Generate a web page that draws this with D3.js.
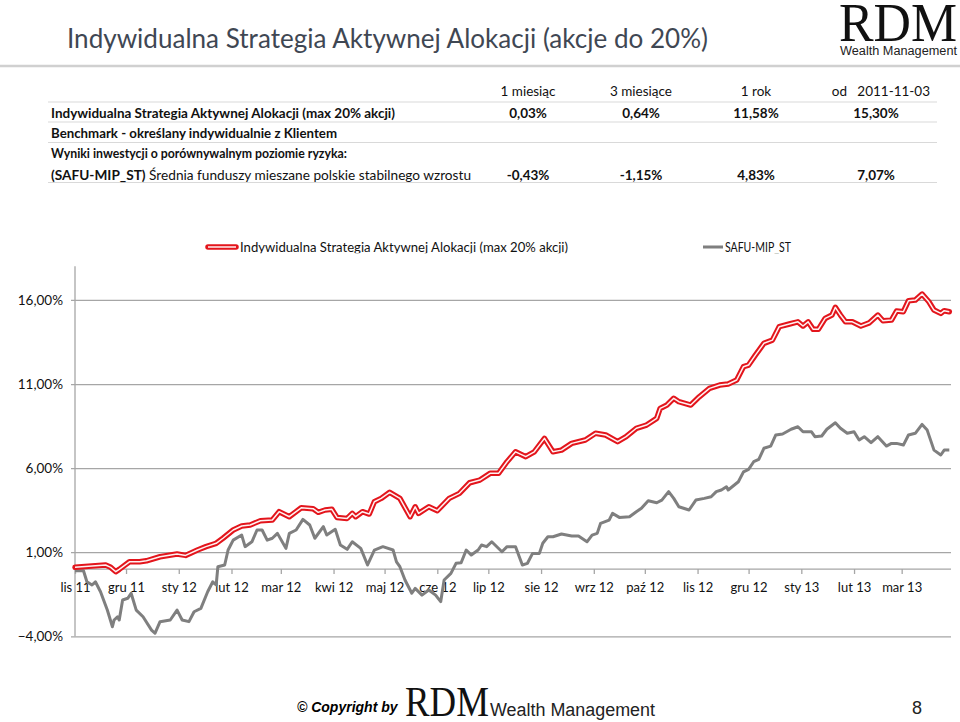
<!DOCTYPE html>
<html>
<head>
<meta charset="utf-8">
<script src="https://cdn.jsdelivr.net/npm/d3@7"></script>
<style>
  html, body { margin: 0; padding: 0; background: #fff; }
  svg { display: block; }
  text { font-family: Lato, "Open Sans", sans-serif; }
</style>
</head>
<body>
<svg id="chart" width="960" height="722"></svg>
<script>
// ---------------- DATA ----------------
const titleText = "Indywidualna Strategia Aktywnej Alokacji (akcje do 20%)";
const periods = ["1 miesiąc", "3 miesiące", "1 rok", "od   2011-11-03"];
const strategyName = "Indywidualna Strategia Aktywnej Alokacji (max 20% akcji)";
const benchmarkText = "Benchmark - określany indywidualnie z Klientem";
const riskText = "Wyniki inwestycji o porównywalnym poziomie ryzyka:";
const safuCode = "(SAFU-MIP_ST)";
const safuName = " Średnia funduszy mieszane polskie stabilnego wzrostu";
const strategyReturns = ["0,03%", "0,64%", "11,58%", "15,30%"];
const safuReturns = ["-0,43%", "-1,15%", "4,83%", "7,07%"];
const legendLabels = ["Indywidualna Strategia Aktywnej Alokacji (max 20% akcji)", "SAFU-MIP_ST"];

const redDates = ["2011-11-03","2011-11-21","2011-11-24","2011-11-27","2011-11-29","2011-12-05","2011-12-11","2011-12-15","2011-12-23",
  "2012-01-02","2012-01-07","2012-01-14","2012-01-19","2012-01-25","2012-01-29","2012-02-04","2012-02-09","2012-02-14","2012-02-20","2012-02-27",
  "2012-03-02","2012-03-08","2012-03-15","2012-03-22","2012-03-25","2012-03-29","2012-04-02","2012-04-05","2012-04-11","2012-04-14","2012-04-16",
  "2012-04-20","2012-04-24","2012-04-27","2012-05-01","2012-05-06","2012-05-12","2012-05-18","2012-05-21","2012-05-23","2012-05-29","2012-06-03",
  "2012-06-10","2012-06-16","2012-06-22","2012-06-28","2012-07-04","2012-07-09","2012-07-14","2012-07-19","2012-07-25","2012-07-30","2012-08-05",
  "2012-08-10","2012-08-15","2012-08-21","2012-08-29","2012-09-04","2012-09-10","2012-09-17","2012-09-22","2012-09-28","2012-10-04","2012-10-10",
  "2012-10-12","2012-10-16","2012-10-20","2012-10-23","2012-10-30","2012-11-04","2012-11-10","2012-11-16","2012-11-21","2012-11-26","2012-11-30",
  "2012-12-03","2012-12-07","2012-12-12","2012-12-17","2012-12-21","2012-12-27","2013-01-01","2013-01-04","2013-01-07","2013-01-10","2013-01-13",
  "2013-01-17","2013-01-21","2013-01-23","2013-01-26","2013-01-29","2013-02-02","2013-02-07","2013-02-12","2013-02-17","2013-02-20","2013-02-25",
  "2013-02-28","2013-03-04","2013-03-07","2013-03-11","2013-03-15","2013-03-19","2013-03-22","2013-03-26","2013-03-28","2013-03-31"];
const redValues = [0.10,0.24,0.10,-0.16,-0.02,0.43,0.43,0.49,0.73,
  0.89,0.81,1.13,1.33,1.53,1.83,2.32,2.56,2.62,2.87,2.91,
  3.41,3.11,3.64,3.59,3.37,3.51,3.55,3.07,3.01,3.31,3.11,
  3.41,3.27,4.00,4.20,4.56,4.20,3.11,3.70,3.31,3.70,3.47,
  4.20,4.50,5.13,5.29,5.69,5.69,6.38,6.97,6.68,6.97,7.77,
  6.97,7.07,7.47,7.67,8.07,7.97,7.57,7.87,8.37,8.56,8.96,
  9.55,9.75,10.15,9.95,9.75,10.24,10.74,10.94,11.00,11.24,12.03,
  12.13,12.72,13.42,13.61,14.41,14.57,14.70,14.45,14.70,14.25,14.25,
  14.90,15.10,15.56,15.10,14.70,14.70,14.45,14.64,15.10,14.76,14.80,
  15.34,15.30,15.95,15.99,16.35,15.89,15.40,15.20,15.36,15.30];

const grayDates = ["2011-11-03","2011-11-08","2011-11-10","2011-11-13","2011-11-15","2011-11-18","2011-11-22","2011-11-25","2011-11-26","2011-11-28",
  "2011-11-29","2011-12-01","2011-12-04","2011-12-06","2011-12-09","2011-12-13","2011-12-18","2011-12-20","2011-12-23","2011-12-29",
  "2012-01-02","2012-01-05","2012-01-09","2012-01-12","2012-01-16","2012-01-20","2012-01-23","2012-01-25","2012-01-26","2012-01-30",
  "2012-02-01","2012-02-04","2012-02-09","2012-02-11","2012-02-15","2012-02-18","2012-02-21","2012-02-24","2012-02-27","2012-03-01",
  "2012-03-06","2012-03-08","2012-03-12","2012-03-16","2012-03-20","2012-03-23","2012-03-28","2012-03-30","2012-04-04","2012-04-07",
  "2012-04-11","2012-04-14","2012-04-19","2012-04-23","2012-04-27","2012-05-02","2012-05-08","2012-05-10","2012-05-12","2012-05-15",
  "2012-05-19","2012-05-21","2012-05-25","2012-05-29","2012-06-02","2012-06-05","2012-06-07","2012-06-11","2012-06-14","2012-06-17",
  "2012-06-20","2012-06-23","2012-06-27","2012-06-29","2012-07-02","2012-07-05","2012-07-11","2012-07-14","2012-07-19","2012-07-23",
  "2012-07-26","2012-07-29","2012-08-02","2012-08-04","2012-08-07","2012-08-10","2012-08-15","2012-08-21","2012-08-25","2012-08-30",
  "2012-09-02","2012-09-05","2012-09-07","2012-09-12","2012-09-14","2012-09-18","2012-09-24","2012-09-28","2012-10-01","2012-10-05",
  "2012-10-10","2012-10-13","2012-10-17","2012-10-20","2012-10-23","2012-10-29","2012-11-02","2012-11-07","2012-11-11","2012-11-14",
  "2012-11-17","2012-11-20","2012-11-21","2012-11-27","2012-11-30","2012-12-03","2012-12-06","2012-12-09","2012-12-12","2012-12-16",
  "2012-12-19","2012-12-23","2012-12-28","2013-01-01","2013-01-04","2013-01-09","2013-01-11","2013-01-15","2013-01-18","2013-01-23",
  "2013-01-26","2013-01-30","2013-02-03","2013-02-06","2013-02-09","2013-02-13","2013-02-17","2013-02-22","2013-02-25","2013-02-28",
  "2013-03-04","2013-03-07","2013-03-11","2013-03-15","2013-03-18","2013-03-22","2013-03-26","2013-03-28","2013-03-31"];
const grayValues = [-0.10,-0.10,-0.76,-0.95,-0.76,-1.35,-2.44,-3.43,-3.03,-2.84,
  -3.03,-1.84,-1.74,-1.44,-2.44,-2.84,-3.63,-3.82,-3.13,-3.03,
  -2.44,-3.03,-3.13,-2.54,-2.34,-1.35,-0.76,-0.95,0.14,0.24,
  1.13,1.72,2.02,1.33,1.62,2.32,2.32,1.72,1.83,2.12,
  1.23,2.12,2.32,2.95,2.62,1.83,2.52,2.02,2.36,1.43,
  1.17,1.62,1.23,0.24,1.13,1.33,1.13,0.43,0.14,-0.65,
  -1.44,-1.15,-1.55,-1.25,-1.55,-1.94,-0.65,-0.26,0.34,0.37,
  1.13,0.83,1.13,1.43,1.33,1.62,1.03,1.33,1.33,0.24,
  0.34,0.93,0.93,1.53,1.92,1.92,2.08,1.96,1.96,1.62,
  2.02,2.12,2.72,2.91,3.31,3.07,3.11,3.41,3.61,4.06,
  3.94,4.10,4.60,4.20,3.70,3.51,4.10,4.20,4.30,4.60,
  4.70,4.89,4.70,5.19,5.78,5.93,6.38,6.52,7.18,7.31,
  7.97,8.03,8.31,8.46,8.16,8.16,7.87,7.91,8.31,8.70,
  8.37,8.07,8.16,7.67,7.87,7.51,7.87,7.31,7.47,7.47,
  7.37,7.97,8.07,8.60,8.26,7.07,6.78,7.07,7.07];

const monthTickDates = ["2011-11-03","2011-12-03","2012-01-03","2012-02-03","2012-03-03","2012-04-03","2012-05-03","2012-06-03",
  "2012-07-03","2012-08-03","2012-09-03","2012-10-03","2012-11-03","2012-12-03","2013-01-03","2013-02-03","2013-03-03"];
const monthLabels = ["lis 11","gru 11","sty 12","lut 12","mar 12","kwi 12","maj 12","cze 12","lip 12","sie 12","wrz 12","paź 12",
  "lis 12","gru 12","sty 13","lut 13","mar 13"];
const yTickValues = [-4, 1, 6, 11, 16];

// ---------------- DRAW ----------------
const parse = d3.timeParse("%Y-%m-%d");
const svg = d3.select("#chart");
svg.append("rect").attr("width", 960).attr("height", 722).attr("fill", "#fff");

// Title
svg.append("text").attr("x", 67).attr("y", 48)
  .attr("font-size", 26).attr("font-weight", 400).attr("fill", "#3f4753")
  .attr("textLength", 641).attr("lengthAdjust", "spacingAndGlyphs")
  .text(titleText);
svg.append("line").attr("x1", 0).attr("x2", 960).attr("y1", 66).attr("y2", 66)
  .attr("stroke", "#d0d0d0").attr("stroke-width", 2.5);

// Logo top right
svg.append("text")
  .attr("transform", "translate(839,41) scale(1,1.3)")
  .style("font-family", "'Liberation Serif', 'DejaVu Serif', serif")
  .attr("font-size", 42).attr("fill", "#111")
  .attr("textLength", 118).attr("lengthAdjust", "spacingAndGlyphs").text("RDM");
svg.append("text").attr("x", 840).attr("y", 55)
  .style("font-family", "'Liberation Sans', Arial, sans-serif")
  .attr("font-size", 12).attr("fill", "#222")
  .attr("textLength", 117).attr("lengthAdjust", "spacingAndGlyphs").text("Wealth Management");

// Table
const colCenters = [528, 641, 756, 876];
const table = svg.append("g").attr("font-size", 13.5).attr("fill", "#111");
periods.forEach((p, i) => {
  if (i < 3) {
    table.append("text").attr("x", colCenters[i]).attr("y", 96).attr("text-anchor", "middle").text(p);
  } else {
    table.append("text").attr("x", 930).attr("y", 96).attr("text-anchor", "end")
      .attr("xml:space", "preserve").style("white-space", "pre").text(p);
  }
});
[102, 122, 142.5, 182.5].forEach(y => {
  table.append("line").attr("x1", 48).attr("x2", 937).attr("y1", y).attr("y2", y)
    .attr("stroke", "#d9d9d9").attr("stroke-width", 1.2);
});
table.append("text").attr("x", 51).attr("y", 117.5).attr("font-weight", 700)
  .attr("textLength", 344).attr("lengthAdjust", "spacingAndGlyphs").text(strategyName);
table.append("text").attr("x", 51).attr("y", 138).attr("font-weight", 700)
  .attr("textLength", 286).attr("lengthAdjust", "spacingAndGlyphs").text(benchmarkText);
table.append("text").attr("x", 51).attr("y", 158).attr("font-weight", 700)
  .attr("textLength", 296).attr("lengthAdjust", "spacingAndGlyphs").text(riskText);
const safuT = table.append("text").attr("x", 51).attr("y", 179.5).attr("textLength", 420).attr("lengthAdjust", "spacingAndGlyphs");
safuT.append("tspan").attr("font-weight", 700).text(safuCode);
safuT.append("tspan").text(safuName);
strategyReturns.forEach((v, i) => {
  table.append("text").attr("x", colCenters[i]).attr("y", 117.5).attr("text-anchor", "middle").attr("font-weight", 700).text(v);
});
safuReturns.forEach((v, i) => {
  table.append("text").attr("x", colCenters[i]).attr("y", 179.5).attr("text-anchor", "middle").attr("font-weight", 700).text(v);
});

// Scales
const x = d3.scaleTime().domain([parse("2011-11-03"), parse("2013-04-01")]).range([75, 951]);
const y = d3.scaleLinear().domain([-4, 18]).range([636.3, 266.3]);

// Gridlines + y axis
const yAxis = d3.axisLeft(y).tickValues(yTickValues).tickSize(0).tickPadding(8)
  .tickFormat(d => d3.format(".2f")(d).replace(".", ",") + "%");
const gy = svg.append("g").attr("transform", "translate(75,0)").call(yAxis);
gy.select(".domain").remove();
gy.selectAll(".tick line").attr("x1", -4).attr("x2", 876).attr("stroke", "#a6a6a6").attr("stroke-width", 1.3);
gy.selectAll(".tick text").attr("font-size", 13.5).attr("fill", "#111").attr("x", -12).style("font-family", "Lato, sans-serif");
svg.append("line").attr("x1", 75).attr("x2", 75).attr("y1", 266.3).attr("y2", 636.3)
  .attr("stroke", "#a6a6a6").attr("stroke-width", 1.3);

// X axis at 0
const tickDates = monthTickDates.map(parse);
const xAxis = d3.axisBottom(x).tickValues(tickDates).tickSize(5).tickPadding(9)
  .tickFormat((d, i) => monthLabels[i]);
const gx = svg.append("g").attr("transform", `translate(0,${y(0)})`).call(xAxis);
gx.select(".domain").attr("stroke", "#a6a6a6").attr("stroke-width", 1.3).attr("d", `M75,0H951`);
gx.selectAll(".tick line").attr("stroke", "#a6a6a6").attr("stroke-width", 1.3);
gx.selectAll(".tick text").attr("font-size", 13).attr("fill", "#111").style("font-family", "Lato, sans-serif");

// Lines
const line = d3.line().x(d => x(d[0])).y(d => y(d[1])).curve(d3.curveLinear);
const grayData = grayDates.map((d, i) => [parse(d), grayValues[i]]);
const redData = redDates.map((d, i) => [parse(d), redValues[i]]);
svg.append("path").datum(grayData).attr("d", line).attr("fill", "none")
  .attr("stroke", "#7f7f7f").attr("stroke-width", 3).attr("stroke-linejoin", "round");
svg.append("path").datum(redData).attr("d", line).attr("fill", "none")
  .attr("stroke", "#e3151c").attr("stroke-width", 5.5).attr("stroke-linejoin", "round").attr("stroke-linecap", "round");
svg.append("path").datum(redData).attr("d", line).attr("fill", "none")
  .attr("stroke", "#fff2f2").attr("stroke-width", 1.5).attr("stroke-linejoin", "round");

// Legend (clipped at bottom as in the original)
const defs = svg.append("defs");
defs.append("clipPath").attr("id", "legclip").append("rect").attr("x", 0).attr("y", 230).attr("width", 960).attr("height", 23.3);
const leg = svg.append("g").attr("clip-path", "url(#legclip)");
leg.append("line").attr("x1", 208).attr("x2", 236).attr("y1", 247).attr("y2", 247)
  .attr("stroke", "#e3151c").attr("stroke-width", 5.5).attr("stroke-linecap", "round");
leg.append("line").attr("x1", 208).attr("x2", 236).attr("y1", 247).attr("y2", 247)
  .attr("stroke", "#fff2f2").attr("stroke-width", 1.5);
leg.append("text").attr("x", 240).attr("y", 252).attr("font-size", 13.5).attr("fill", "#111")
  .attr("textLength", 328).attr("lengthAdjust", "spacingAndGlyphs").text(legendLabels[0]);
leg.append("line").attr("x1", 703).attr("x2", 723).attr("y1", 247).attr("y2", 247)
  .attr("stroke", "#7f7f7f").attr("stroke-width", 3);
leg.append("text").attr("x", 725).attr("y", 252).attr("font-size", 13.5).attr("fill", "#111")
  .attr("textLength", 66).attr("lengthAdjust", "spacingAndGlyphs").text(legendLabels[1]);

// Footer
svg.append("text").attr("x", 297).attr("y", 712)
  .style("font-family", "'Liberation Sans', Arial, sans-serif")
  .attr("font-size", 14).attr("font-weight", 700).attr("font-style", "italic").attr("fill", "#000")
  .text("© Copyright by");
svg.append("text")
  .attr("transform", "translate(405,716) scale(1,1.15)")
  .style("font-family", "'Liberation Serif', 'DejaVu Serif', serif")
  .attr("font-size", 36).attr("fill", "#111")
  .attr("textLength", 84).attr("lengthAdjust", "spacingAndGlyphs").text("RDM");
svg.append("text").attr("x", 490).attr("y", 716)
  .style("font-family", "'Liberation Sans', Arial, sans-serif")
  .attr("font-size", 18).attr("fill", "#222")
  .attr("textLength", 165).attr("lengthAdjust", "spacingAndGlyphs").text("Wealth Management");
svg.append("text").attr("x", 912).attr("y", 714)
  .style("font-family", "'Liberation Sans', Arial, sans-serif")
  .attr("font-size", 18).attr("fill", "#222").text("8");
</script>
</body>
</html>
